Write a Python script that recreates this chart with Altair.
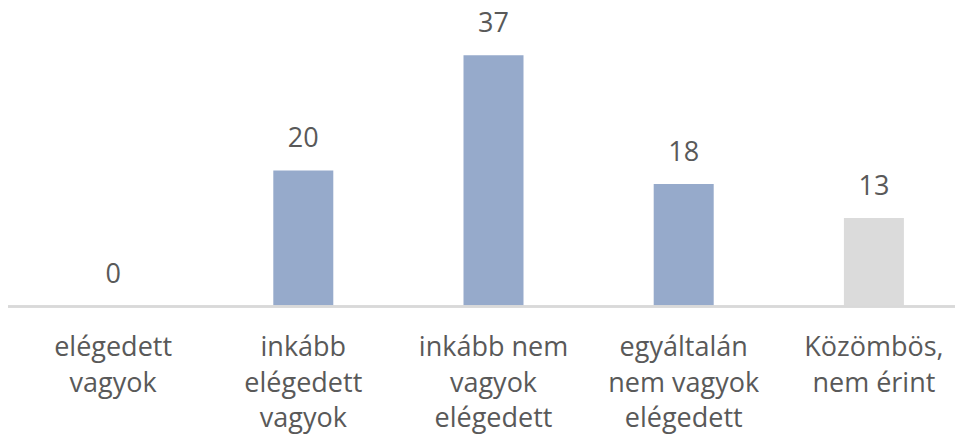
import altair as alt
import pandas as pd

categories = ["elégedett vagyok", "inkább elégedett vagyok", "inkább nem vagyok elégedett",
              "egyáltalán nem vagyok elégedett", "Közömbös, nem érint"]
label_lines = ["elégedett\nvagyok", "inkább\nelégedett\nvagyok", "inkább nem\nvagyok\nelégedett",
               "egyáltalán\nnem vagyok\nelégedett", "Közömbös,\nnem érint"]
values = [0, 20, 37, 18, 13]
colors = ["#96AACB", "#96AACB", "#96AACB", "#96AACB", "#DBDBDB"]

df = pd.DataFrame({"cat": categories, "label": label_lines, "value": values, "color": colors})

FONT = "Open Sans"
x = alt.X("cat:N", sort=categories,
          scale=alt.Scale(range=[10, 961], paddingInner=0, paddingOuter=0),
          axis=None)
y = alt.Y("value:Q", scale=alt.Scale(domain=[0, 42.5], nice=False), axis=None)

bars = alt.Chart(df).mark_bar(width=60).encode(
    x=x, y=y, color=alt.Color("color:N", scale=None)
)

vals = alt.Chart(df).mark_text(font=FONT, fontSize=27, color="#595959",
                               baseline="alphabetic", dy=-23).encode(
    x=x, y=y, text="value:Q"
)

axis_line = alt.Chart(df).mark_rule(color="#D9D9D9", strokeWidth=2).encode(
    x=alt.value(0), x2=alt.value(947), y=alt.value(288.5)
)

labels = alt.Chart(df).mark_text(font=FONT, fontSize=27, color="#595959",
                                 baseline="alphabetic", lineBreak="\n",
                                 lineHeight=35.5).encode(
    x=x, y=alt.value(338), text="label:N"
)

chart = alt.layer(bars, axis_line, vals, labels).properties(
    width=947, height=288,
    autosize=alt.AutoSizeParams(type="none"),
    padding={"left": 0, "top": 10, "right": 0, "bottom": 129},
).configure_view(stroke=None)

chart.save("out.html", embed_options={"renderer": "svg", "actions": False})
